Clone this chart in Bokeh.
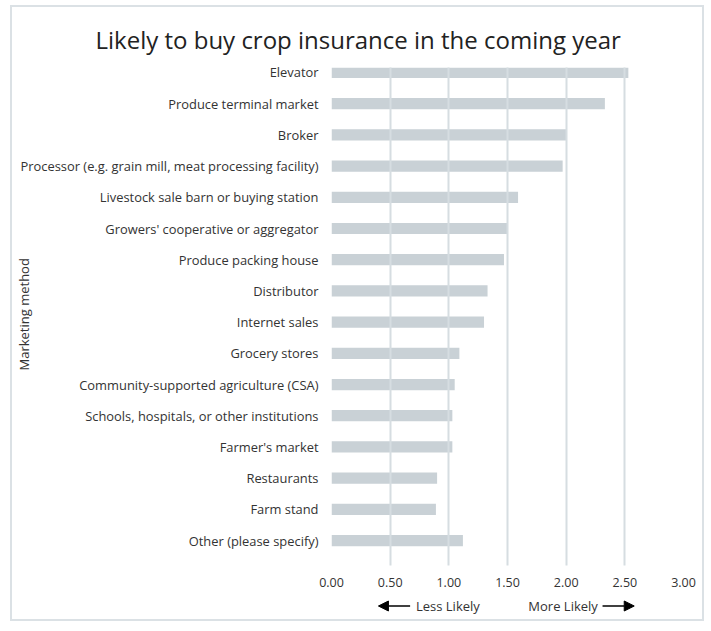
from bokeh.plotting import figure
from bokeh.layouts import column
from bokeh.models import (Range1d, FixedTicker, Label, Arrow, NormalHead, Title,
                          ColumnDataSource)
from bokeh.embed import file_html
from bokeh.resources import INLINE

categories = [
    "Elevator",
    "Produce terminal market",
    "Broker",
    "Processor (e.g. grain mill, meat processing facility)",
    "Livestock sale barn or buying station",
    "Growers' cooperative or aggregator",
    "Produce packing house",
    "Distributor",
    "Internet sales",
    "Grocery stores",
    "Community-supported agriculture (CSA)",
    "Schools, hospitals, or other institutions",
    "Farmer's market",
    "Restaurants",
    "Farm stand",
    "Other (please specify)",
]
values = [2.53, 2.33, 2.00, 1.97, 1.59, 1.50, 1.47, 1.33, 1.30, 1.09, 1.05, 1.03, 1.03, 0.90, 0.89, 1.12]
x_ticks = [0.0, 0.5, 1.0, 1.5, 2.0, 2.5, 3.0]
x_tick_labels = ["0.00", "0.50", "1.00", "1.50", "2.00", "2.50", "3.00"]

title_text = "Likely to buy crop insurance in the coming year"
y_title = "Marketing method"
less_text = "Less Likely"
more_text = "More Likely"

FONT = "Open Sans"
TEXT = "#333333"
n = len(categories)
positions = [n - 1 - i for i in range(n)]

src = ColumnDataSource(dict(y=positions, right=values, cat=categories))

x_range = Range1d(0, 3)

p = figure(width=690, height=585, output_backend="svg", toolbar_location=None,
           x_range=x_range, y_range=Range1d(-0.80, n - 1 + 0.16),
           min_border_left=319, min_border_right=19, min_border_top=60,
           min_border_bottom=27)
p.outline_line_color = None
p.background_fill_color = "white"
p.border_fill_color = "white"

p.hbar(y="y", left=0, right="right", height=0.36, source=src,
       fill_color="#c9d1d6", line_color=None)

# grid (drawn over the bars)
p.ygrid.grid_line_color = None
p.xgrid.ticker = FixedTicker(ticks=x_ticks)
p.xgrid.grid_line_color = "#d6dde1"
p.xgrid.grid_line_width = 2
p.xgrid.level = "overlay"

# x axis
p.xaxis.ticker = FixedTicker(ticks=x_ticks)
p.xaxis.major_label_overrides = {t: l for t, l in zip(x_ticks, x_tick_labels)}
p.xaxis.axis_line_color = None
p.xaxis.major_tick_line_color = None
p.xaxis.minor_tick_line_color = None
p.xaxis.major_tick_out = 0
p.xaxis.major_tick_in = 0
p.xaxis.major_label_standoff = 12
p.xaxis.major_label_text_font = FONT
p.xaxis.major_label_text_font_size = "12.5px"
p.xaxis.major_label_text_color = TEXT

# y axis
p.yaxis.ticker = FixedTicker(ticks=positions)
p.yaxis.major_label_overrides = {pos: c for pos, c in zip(positions, categories)}
p.yaxis.axis_line_color = None
p.yaxis.major_tick_line_color = None
p.yaxis.minor_tick_line_color = None
p.yaxis.major_tick_out = 0
p.yaxis.major_tick_in = 0
p.yaxis.major_label_standoff = 13
p.yaxis.major_label_text_font = FONT
p.yaxis.major_label_text_font_size = "12.9px"
p.yaxis.major_label_text_color = TEXT

# chart title
p.add_layout(Title(text=title_text, align="left", offset=-236, standoff=24,
                   text_font=FONT, text_font_size="24px", text_font_style="normal",
                   text_color="#222222"), "above")

# y axis title
p.add_layout(Title(text=y_title, align="left", offset=195, standoff=-30,
                   text_font=FONT, text_font_size="13px", text_font_style="normal",
                   text_color=TEXT), "left")

# bottom strip with "Less Likely / More Likely" arrows, sharing the x scale
q = figure(width=690, height=27, output_backend="svg", toolbar_location=None,
           x_range=x_range, y_range=Range1d(0, 1),
           min_border_left=319, min_border_right=19, min_border_top=0,
           min_border_bottom=0)
q.outline_line_color = None
q.axis.visible = False
q.grid.visible = False
q.background_fill_color = "white"
q.border_fill_color = "white"

ann_y = 0.5
less_arrow = (0.67, 0.40)
less_label_x = 0.72
more_label_x = 2.27
more_arrow = (2.31, 2.58)

q.add_layout(Arrow(end=NormalHead(size=10, fill_color="black", line_color="black"),
                   x_start=less_arrow[0], y_start=ann_y, x_end=less_arrow[1], y_end=ann_y,
                   line_width=1.5, line_color="black"))
q.add_layout(Label(x=less_label_x, y=ann_y, text=less_text, text_align="left",
                   text_baseline="middle", text_font=FONT,
                   text_font_size="13px", text_color=TEXT))
q.add_layout(Label(x=more_label_x, y=ann_y, text=more_text, text_align="right",
                   text_baseline="middle", text_font=FONT,
                   text_font_size="13px", text_color=TEXT))
q.add_layout(Arrow(end=NormalHead(size=10, fill_color="black", line_color="black"),
                   x_start=more_arrow[0], y_start=ann_y, x_end=more_arrow[1], y_end=ann_y,
                   line_width=1.5, line_color="black"))

layout = column(p, q, spacing=0, margin=(5, 0, 0, 10),
                styles={"border": "2px solid #dbe1e5", "background": "white"})

open("out.html", "w").write(file_html(layout, INLINE))
